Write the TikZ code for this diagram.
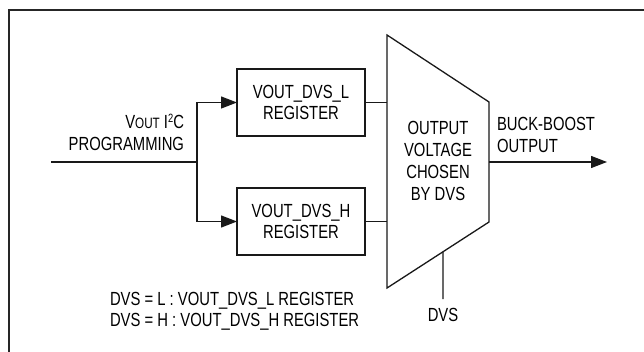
\documentclass[tikz,border=0pt]{standalone}
\usepackage{fontspec}
\setmainfont{Liberation Sans}[FakeStretch=0.78]
\usetikzlibrary{arrows.meta,calc}
\begin{document}
\begin{tikzpicture}[x=1pt,y=-1pt,
  every node/.style={font=\fontsize{19}{19}\selectfont, inner sep=0pt, outer sep=0pt},
  ln/.style={line width=1.3pt, draw=black!90},
  regbox/.style={draw=black!90, line width=1.3pt, minimum width=128pt, minimum height=67pt},
  arr/.style={ln, -{Triangle[length=16pt,width=12pt]}},
  txt/.style={anchor=base}
]
\useasboundingbox (0,0) rectangle (644,352);
% frame (top and left visible)
\draw[line width=2pt, draw=black!85] (8.5,352) -- (8.5,10) -- (644,10);

% register boxes
\node[regbox] (regl) at (301,102.5) {};
\node[regbox] (regh) at (301,221.5) {};
\node[txt] (regl1) at (301,98.5) {VOUT\_DVS\_L};
\node[txt] (regl2) at (301,120) {REGISTER};
\node[txt] (regh1) at (301,217.5) {VOUT\_DVS\_H};
\node[txt] (regh2) at (301,239) {REGISTER};

% mux trapezoid
\coordinate (m1) at (387,35);
\coordinate (m2) at (489,102);
\coordinate (m3) at (489,222);
\coordinate (m4) at (387,288);
\draw[ln, line join=miter] (m1) -- (m2) -- (m3) -- (m4) -- cycle;
\node[txt] (mt1) at (438,135) {OUTPUT};
\node[txt] (mt2) at (438,157) {VOLTAGE};
\node[txt] (mt3) at (438,179) {CHOSEN};
\node[txt] (mt4) at (438,201) {BY DVS};

% input
\coordinate (in) at (51,162);
\coordinate (br) at (197,162);
\node[anchor=base east] (vout) at (184,129) {V{\fontsize{15}{15}\selectfont OUT} I\raisebox{6pt}{\fontsize{12}{12}\selectfont 2}C};
\node[anchor=base east] (prog) at (184,151) {PROGRAMMING};
\draw[ln] (in) -- (br);
\draw[arr] (br) |- (regl.west);
\draw[arr] (br) |- (regh.west);

% registers to mux
\draw[ln] (regl.east) -- (387,102.5);
\draw[ln] (regh.east) -- (387,221.5);

% output
\coordinate (outend) at (607,162);
\draw[arr] (489,162) -- (outend);
\node[anchor=base west] (bb1) at (497,131) {BUCK-BOOST};
\node[anchor=base west] (bb2) at (497,153) {OUTPUT};

% DVS select
\coordinate (dvstop) at ($(m4)!0.549!(m3)$);
\coordinate (dvsbot) at (443,299);
\draw[ln] (dvstop) -- (dvsbot);
\node[txt] (dvs) at (443,321) {DVS};

% legend
\node[anchor=base west] (leg1) at (110,305) {DVS = L : VOUT\_DVS\_L REGISTER};
\node[anchor=base west] (leg2) at (110,326.5) {DVS = H : VOUT\_DVS\_H REGISTER};
\end{tikzpicture}
\end{document}
